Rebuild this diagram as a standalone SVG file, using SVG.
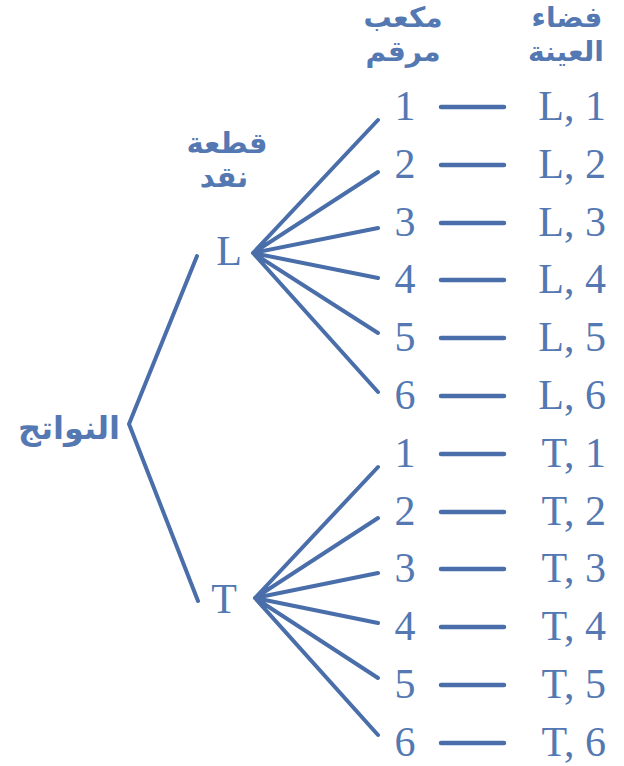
<svg xmlns="http://www.w3.org/2000/svg" width="624" height="766" viewBox="0 0 624 766">
<style>
.ar{font-family:"DejaVu Sans","Noto Sans",sans-serif;font-weight:bold;font-size:28px;fill:#5478b2;text-anchor:middle}
.num{font-family:"Liberation Serif","DejaVu Serif",serif;font-size:42px;fill:#5478b2}
.c{stroke:#4a6ea9;stroke-width:4;stroke-linecap:round;fill:none}
</style>
<rect width="624" height="766" fill="#fff"/>
<g id="headers">
<text class="ar" x="403" y="27">مكعب</text>
<text class="ar" x="403" y="61">مرقم</text>
<text class="ar" x="567" y="27">فضاء</text>
<text class="ar" x="566" y="61">العينة</text>
<text class="ar" x="227" y="153" style="font-size:29px">قطعة</text>
<text class="ar" x="224" y="187" style="font-size:29px">نقد</text>
</g>
<g id="root"><text class="ar" x="69" y="439" style="font-size:32px">النواتج</text></g>
<g id="nodeL"><text class="num" x="229" y="265" text-anchor="middle">L</text></g>
<g id="nodeT"><text class="num" x="224" y="613" text-anchor="middle">T</text></g>
<g id="connectors">
<polyline class="c" points="197,256 129,424 198,601"/>
<path class="c" d="M253,253L378,120M253,253L378,172M253,253L378,228M253,253L378,278M253,253L378,333M253,253L378,392"/>
<path class="c" d="M255,598L378,467M255,598L378,518M255,598L378,573M255,598L378,623M255,598L378,678M255,598L378,735"/>
<path class="c" style="stroke-width:4.5" d="M441,107H504M441,165H504M441,223H504M441,280H504M441,338H504M441,396H504M441,454H504M441,512H504M441,569H504M441,627H504M441,685H504M441,743H504"/>
</g>
<g id="outcomesL" class="num">
<text x="405" y="120" text-anchor="middle">1</text><text x="606" y="120" text-anchor="end">L, 1</text>
<text x="405" y="178" text-anchor="middle">2</text><text x="606" y="178" text-anchor="end">L, 2</text>
<text x="405" y="236" text-anchor="middle">3</text><text x="606" y="236" text-anchor="end">L, 3</text>
<text x="405" y="293" text-anchor="middle">4</text><text x="606" y="293" text-anchor="end">L, 4</text>
<text x="405" y="351" text-anchor="middle">5</text><text x="606" y="351" text-anchor="end">L, 5</text>
<text x="405" y="409" text-anchor="middle">6</text><text x="606" y="409" text-anchor="end">L, 6</text>
</g>
<g id="outcomesT" class="num">
<text x="405" y="467" text-anchor="middle">1</text><text x="606" y="467" text-anchor="end">T, 1</text>
<text x="405" y="525" text-anchor="middle">2</text><text x="606" y="525" text-anchor="end">T, 2</text>
<text x="405" y="582" text-anchor="middle">3</text><text x="606" y="582" text-anchor="end">T, 3</text>
<text x="405" y="640" text-anchor="middle">4</text><text x="606" y="640" text-anchor="end">T, 4</text>
<text x="405" y="698" text-anchor="middle">5</text><text x="606" y="698" text-anchor="end">T, 5</text>
<text x="405" y="756" text-anchor="middle">6</text><text x="606" y="756" text-anchor="end">T, 6</text>
</g>
</svg>
